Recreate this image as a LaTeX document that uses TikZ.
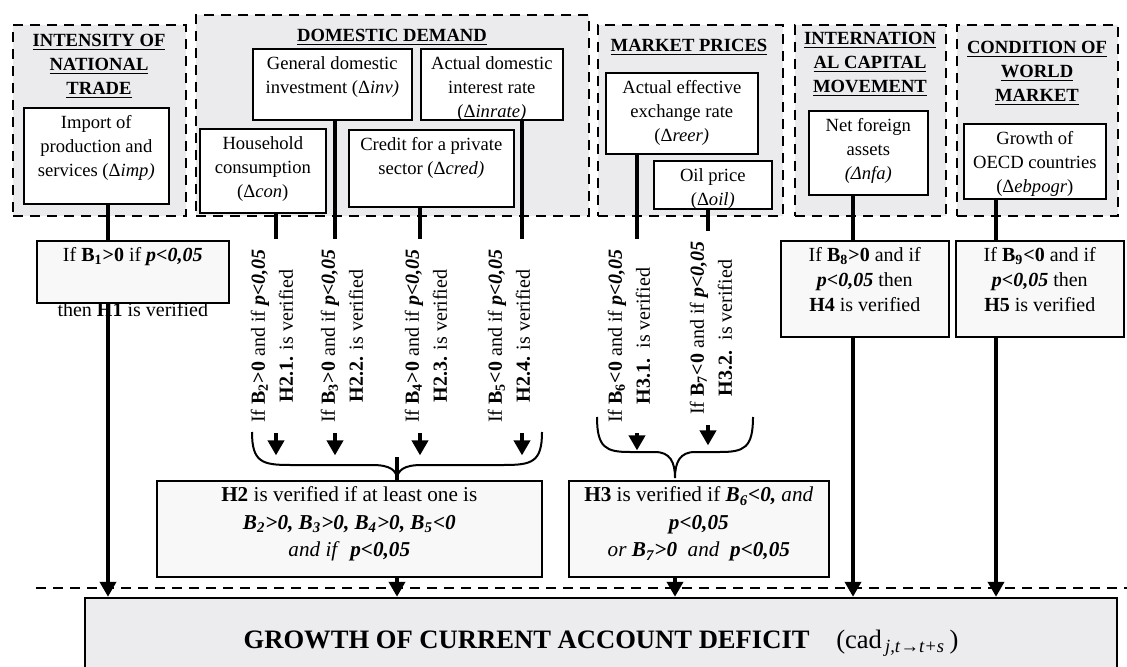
\documentclass[tikz,border=0pt]{standalone}
\usepackage{fontspec}
\setmainfont{Liberation Serif}
\usepackage{tikz}
\usepackage{xcolor}
\usetikzlibrary{arrows.meta}

\definecolor{groupgray}{RGB}{235,235,238}
\definecolor{hypgray}{RGB}{248,248,248}
\definecolor{cadgray}{RGB}{236,236,238}

\newcommand{\varfont}{\fontsize{9.3}{12}\selectfont}
\newcommand{\hypfont}{\fontsize{10}{12.5}\selectfont}
\newcommand{\bigfont}{\fontsize{10.6}{13.75}\selectfont}
\newcommand{\condfont}{\fontsize{10}{14}\selectfont}
% Text im Kasten oben ausrichten: Breite, Hoehe, Text
\newcommand{\boxtxt}[3]{\parbox[c][#2][t]{#1}{\centering\rule{0pt}{10.5pt}#3}}
\newcommand{\pval}{\textbf{\textit{p<0,05}}}

\tikzset{
  group/.style={draw, fill=groupgray, line width=1pt, dash pattern=on 5pt off 3.5pt,
    inner sep=0, anchor=north west},
  title/.style={font=\bfseries\varfont, align=center, anchor=north, inner sep=0},
  var/.style={draw, fill=white, line width=0.8pt, inner sep=0, anchor=north west, font=\varfont},
  hyp/.style={draw, fill=hypgray, line width=0.8pt, inner sep=0, anchor=north west, font=\hypfont},
  cond/.style={rotate=90, align=center, inner sep=0, minimum width=97pt, font=\condfont},
  link/.style={line width=2.3pt},
  arr/.style={link, -{Triangle[length=7.5pt,width=8pt]}},
  curly/.style={line width=1pt}
}

\begin{document}
\begin{tikzpicture}[x=0.5pt, y=-0.5pt]
\useasboundingbox (0,0) rectangle (1127,667);

% Gruppen
\node[group, minimum width=86.5pt, minimum height=95.5pt] (gtrade) at (12,24) {};
\node[group, minimum width=196.5pt, minimum height=100.5pt] (gdom) at (195,14) {};
\node[group, minimum width=92.5pt, minimum height=95.5pt] (gprice) at (597,24) {};
\node[group, minimum width=75.5pt, minimum height=95.5pt] (gcap) at (794,24) {};
\node[group, minimum width=80.5pt, minimum height=95.5pt] (gworld) at (956,24) {};

\node[title] (ttrade) at (99,34) {\underline{INTENSITY OF}\\\underline{NATIONAL}\\\underline{TRADE}};
\node[title] (tdom) at (392,29) {\underline{DOMESTIC DEMAND}};
\node[title] (tprice) at (689,39) {\underline{MARKET PRICES}};
\node[title] (tcap) at (870,32) {\underline{INTERNATION}\\\underline{AL CAPITAL}\\\underline{MOVEMENT}};
\node[title] (tworld) at (1037,41) {\underline{CONDITION OF}\\\underline{WORLD}\\\underline{MARKET}};

% Variablen
\node[var] (imp) at (23,107) {\boxtxt{72.5pt}{48pt}{Import of\\production and\\services (Δ\textit{imp)}}};
\node[var] (inv) at (252,48) {\boxtxt{79.5pt}{35.5pt}{General domestic\\investment (Δ\textit{inv)}}};
\node[var] (rate) at (420,48) {\boxtxt{71pt}{35.5pt}{Actual domestic\\interest rate\\(Δ\textit{inrate)}}};
\node[var] (con) at (199,128) {\boxtxt{63pt}{42pt}{Household\\consumption\\(Δ\textit{con})}};
\node[var] (cred) at (348,129) {\boxtxt{82.5pt}{38.5pt}{Credit for a private\\sector (Δ\textit{cred)}}};
\node[var] (reer) at (605,72) {\boxtxt{76pt}{40.5pt}{Actual effective\\exchange rate\\(Δ\textit{reer)}}};
\node[var] (oil) at (653,160) {\boxtxt{59pt}{24pt}{Oil price\\(Δ\textit{oil)}}};
\node[var] (nfa) at (808,110) {\boxtxt{59.5pt}{42pt}{Net foreign\\assets\\\textit{(Δnfa)}}};
\node[var] (oecd) at (963,123) {\boxtxt{71pt}{37.5pt}{Growth of\\OECD countries\\(Δ\textit{ebpogr})}};

% Hypothesen
\node[hyp] (h1) at (36,240) {\boxtxt{96pt}{31pt}{If \textbf{B\textsubscript{1}>0} if \pval\\[15pt]then \textbf{H1} is verified}};
\node[hyp] (h4) at (780,240) {\boxtxt{84pt}{48pt}{If \textbf{B\textsubscript{8}>0} and if\\\pval{} then\\\textbf{H4} is verified}};
\node[hyp] (h5) at (955,240) {\boxtxt{84pt}{48pt}{If \textbf{B\textsubscript{9}<0} and if\\\pval{} then\\\textbf{H5} is verified}};
\node[hyp, font=\bigfont] (h2) at (156,480) {\boxtxt{192.5pt}{48pt}{\textbf{H2} is verified if at least one is\\
  \textbf{\textit{B\textsubscript{2}>0, B\textsubscript{3}>0, B\textsubscript{4}>0, B\textsubscript{5}<0}}\\
  \textit{and if}\ \ \pval}};
\node[hyp, font=\bigfont] (h3) at (568,480) {\boxtxt{130pt}{48pt}{\textbf{H3} is verified if \textbf{\textit{B\textsubscript{6}<0,}} \textit{and}\\
  \pval\\
  \textit{or} \textbf{\textit{B\textsubscript{7}>0}}\ \ \textit{and}\ \ \pval}};

% Bedingungen (gedreht)
\node[cond] (c1) at (272,336) {If \textbf{B\textsubscript{2}>0} and if \pval\\\textbf{H2.1.} is verified};
\node[cond] (c2) at (342,336) {If \textbf{B\textsubscript{3}>0} and if \pval\\\textbf{H2.2.} is verified};
\node[cond] (c3) at (426,336) {If \textbf{B\textsubscript{4}>0} and if \pval\\\textbf{H2.3.} is verified};
\node[cond] (c4) at (509,336) {If \textbf{B\textsubscript{5}<0} and if \pval\\\textbf{H2.4.} is verified};
\node[cond] (c5) at (629,336) {If \textbf{B\textsubscript{6}<0} and if \pval\\\textbf{H3.1.}\ \ is verified};
\node[cond] (c6) at (711,328) {If \textbf{B\textsubscript{7}<0} and if \pval\\\textbf{H3.2.}\ \ is verified};

\node[draw, fill=cadgray, line width=1.2pt, minimum width=516pt, minimum height=42pt,
  font=\fontsize{13.3}{16}\selectfont, text height=10pt, text depth=2pt] (cad) at (601,640)
  {\textbf{GROWTH OF CURRENT ACCOUNT DEFICIT}\quad(cad\textsubscript{\,\textit{j,t}→\textit{t+s}}\,)};

% Spuren
\coordinate (limp) at (108,0);
\coordinate (lcon) at (276,0);
\coordinate (linv) at (335,0);
\coordinate (lcred) at (420,0);
\coordinate (lrate) at (522,0);
\coordinate (lreer) at (637,0);
\coordinate (loil) at (708,0);
\coordinate (lnfa) at (853,0);
\coordinate (loecd) at (996,0);
\coordinate (b2tip) at (397,457);
\coordinate (b3tip) at (675,478);

\draw[line width=1pt, dash pattern=on 5pt off 3.5pt] (36,588) -- (1127,588);

\draw[link] (limp |- imp.south) -- (limp |- h1.north);
\draw[arr] (limp |- h1.south) -- (limp |- cad.north);

\draw[link] (lcon |- con.south) -- (lcon |- c1.east);
\draw[link] (linv |- inv.south) -- (linv |- c2.east);
\draw[link] (lcred |- cred.south) -- (lcred |- c3.east);
\draw[link] (lrate |- rate.south) -- (lrate |- c4.east);
\draw[arr] (lcon |- c1.west) -- ++(0,22);
\draw[arr] (linv |- c2.west) -- ++(0,22);
\draw[arr] (lcred |- c3.west) -- ++(0,22);
\draw[arr] (lrate |- c4.west) -- ++(0,22);

\draw[link] (lreer |- reer.south) -- (lreer |- c5.east);
\draw[link] (loil |- oil.south) -- (loil |- c6.east);
\draw[arr] (lreer |- c5.west) -- ++(0,17);
\draw[arr] (loil |- c6.west) -- ++(0,20);

% Klammern
\draw[curly] (252,432) .. controls (252,462) and (262,465) .. (290,465) -- (372,465)
  .. controls (390,465) and (397,470) .. (397,480) .. controls (397,470) and (404,465) .. (422,465)
  -- (504,465) .. controls (532,465) and (542,462) .. (542,432);
\draw[curly] (597,417) .. controls (597,448) and (606,452) .. (630,452) -- (655,452)
  .. controls (670,452) and (675,462) .. (b3tip) .. controls (675,462) and (680,452) .. (695,452)
  -- (720,452) .. controls (744,452) and (753,448) .. (753,417);
\draw[link] (b2tip) -- (b2tip |- h2.north);

\draw[arr] (b2tip |- h2.south) -- (b2tip |- cad.north);
\draw[arr] (b3tip |- h3.south) -- (b3tip |- cad.north);

\draw[link] (lnfa |- nfa.south) -- (lnfa |- h4.north);
\draw[arr] (lnfa |- h4.south) -- (lnfa |- cad.north);
\draw[link] (loecd |- oecd.south) -- (loecd |- h5.north);
\draw[arr] (loecd |- h5.south) -- (loecd |- cad.north);
\end{tikzpicture}
\end{document}
